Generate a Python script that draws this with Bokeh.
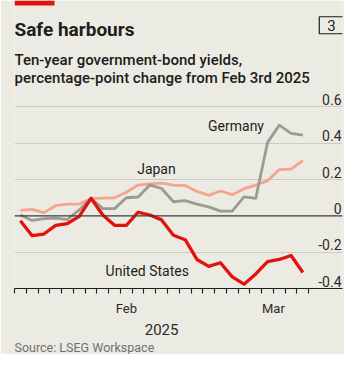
from bokeh.plotting import figure
from bokeh.models import (Range1d, LinearAxis, FixedTicker, Grid, Span, Label, Title,
                          BoxAnnotation, ColumnDataSource)
from bokeh.core.properties import value
from bokeh.embed import file_html
from bokeh.resources import INLINE

# ---------------- data ----------------
dates = ["Feb 4", "Feb 5", "Feb 6", "Feb 7", "Feb 10", "Feb 11", "Feb 12", "Feb 13",
         "Feb 14", "Feb 18", "Feb 19", "Feb 20", "Feb 21", "Feb 24", "Feb 25", "Feb 26",
         "Feb 27", "Feb 28", "Mar 3", "Mar 4", "Mar 5", "Mar 6", "Mar 7", "Mar 10", "Mar 11"]
months = ["Feb", "Feb", "Feb", "Feb", "Feb", "Feb", "Feb", "Feb", "Feb", "Feb", "Feb",
          "Feb", "Feb", "Feb", "Feb", "Feb", "Feb", "Feb", "Feb",
          "Mar", "Mar", "Mar", "Mar", "Mar", "Mar"]
united_states = [-0.027, -0.109, -0.100, -0.052, -0.042, -0.003, 0.097, 0.005, -0.052,
                 -0.052, 0.020, 0.005, -0.022, -0.107, -0.131, -0.240, -0.278, -0.258,
                 -0.336, -0.376, -0.320, -0.252, -0.240, -0.218, -0.312]
germany = [0.005, -0.025, -0.015, -0.012, -0.020, 0.033, 0.097, 0.040, 0.040, 0.100,
           0.104, 0.170, 0.151, 0.078, 0.084, 0.065, 0.050, 0.026, 0.026, 0.105, 0.097,
           0.405, 0.500, 0.455, 0.445]
japan = [0.030, 0.036, 0.018, 0.056, 0.065, 0.065, 0.095, 0.098, 0.100, 0.130, 0.170,
         0.176, 0.180, 0.170, 0.167, 0.135, 0.113, 0.137, 0.117, 0.150, 0.170, 0.193,
         0.255, 0.258, 0.305]
y_ticks = [-0.4, -0.2, 0, 0.2, 0.4, 0.6]
y_labels = ["-0.4", "-0.2", "0", "0.2", "0.4", "0.6"]
year_label = "2025"

# ---------------- layout / styles ----------------
BG = "#ecebe3"
RED = "#e3120b"
PINK = "#f5a58e"
GREY = "#9b9b94"
INK = "#1d1d1b"
FONT = "Roboto"

W, H = 344, 354
LEFT, RIGHT, BOTTOM = 14, 2, 63
DAY_PX = 11.77          # pixels per trading day
UNIT_PX = 183.4         # pixels per percentage point
Y_MIN = -0.4
X_END = (W - LEFT - RIGHT) / DAY_PX
Y_TOP = Y_MIN + (H - BOTTOM) / UNIT_PX


def ydat(py):
    """canvas pixel row (frame starts at top of canvas) -> data y"""
    return Y_TOP - py / UNIT_PX


def xdat(px):
    return (px - LEFT) / DAY_PX


n = len(dates)
xs = [i + 0.5 for i in range(n)]
bounds = [0]
month_names = [months[0]]
for i in range(1, n):
    if months[i] != months[i - 1]:
        bounds.append(i)
        month_names.append(months[i])
bounds.append(n)
month_centres = [(bounds[k] + bounds[k + 1]) / 2 for k in range(len(month_names))]

p = figure(width=W, height=H, x_range=Range1d(0, X_END), y_range=Range1d(Y_MIN, Y_TOP),
           x_axis_type=None, y_axis_type=None, output_backend="svg", title=None,
           toolbar_location=None, min_border_left=LEFT, min_border_right=RIGHT,
           min_border_top=0, min_border_bottom=BOTTOM,
           background_fill_color=BG, border_fill_color=BG, outline_line_color=None)

grid = Grid(dimension=1, ticker=FixedTicker(ticks=[t for t in y_ticks if t not in (0, -0.4)]),
            grid_line_color="#cdccc3", grid_line_width=1)
p.add_layout(grid)
p.add_layout(Span(location=0, dimension="width", line_color="#3b3b38", line_width=1.3))

src = ColumnDataSource(dict(x=xs, us=united_states, de=germany, jp=japan))
p.line("x", "jp", source=src, line_color=PINK, line_width=2.8, line_join="round")
p.line("x", "de", source=src, line_color=GREY, line_width=2.8, line_join="round")
p.line("x", "us", source=src, line_color=RED, line_width=3.3, line_join="round")

p.text(x=[X_END] * len(y_ticks), y=y_ticks, text=y_labels, text_align="right",
       text_baseline="bottom", x_offset=-1, y_offset=-2, text_font=value(FONT),
       text_font_size="14px", text_color="#2a2a28")

# x axis: one tick per trading day, month names centred on their spans
ax1 = LinearAxis(ticker=FixedTicker(ticks=month_centres, minor_ticks=list(range(n + 1))),
                 major_label_overrides={c: m for c, m in zip(month_centres, month_names)},
                 major_tick_line_color=None, major_tick_out=0, major_tick_in=0,
                 minor_tick_out=5, minor_tick_in=0, minor_tick_line_color=INK,
                 minor_tick_line_width=1.1,
                 axis_line_color=INK, axis_line_width=1.2, major_label_standoff=7,
                 major_label_text_font=FONT, major_label_text_font_size="13px",
                 major_label_text_color="#2a2a28")
# year, centred on the whole date span
ax2 = LinearAxis(ticker=FixedTicker(ticks=[n / 2], minor_ticks=[]),
                 major_label_overrides={n / 2: year_label},
                 axis_line_color=None, major_tick_line_color=None, minor_tick_line_color=None,
                 major_tick_out=0, major_tick_in=0, major_label_standoff=5,
                 major_label_text_font=FONT, major_label_text_font_size="15px",
                 major_label_text_color="#2a2a28")
p.add_layout(ax1, "below")
p.add_layout(ax2, "below")
p.add_layout(Title(text="Source: LSEG Workspace", align="left", text_font=FONT,
                   text_font_size="12.5px", text_font_style="normal", text_color="#707070",
                   standoff=0, offset=0), "below")

for txt, lx, ly in [("Germany", 18.82, 0.493), ("Japan", 12.06, 0.256),
                    ("United States", 11.28, -0.303)]:
    p.add_layout(Label(x=lx, y=ly, text=txt, text_align="center", text_baseline="middle",
                       text_font=FONT, text_font_size="14px", text_color=INK))

# header (inside the frame's top area)
p.add_layout(BoxAnnotation(left=xdat(14), right=xdat(54), top=ydat(0), bottom=ydat(5),
                           fill_color=RED, fill_alpha=1, line_color=None))
p.add_layout(Label(x=xdat(14), y=ydat(29), text="Safe harbours", text_font=FONT,
                   text_font_style="bold", text_font_size="19px", text_baseline="middle",
                   text_color=INK))
p.add_layout(Label(x=xdat(331), y=ydat(25), text="3", text_align="center",
                   text_baseline="middle", text_font=FONT, text_font_size="15px",
                   text_color=INK, border_line_color=INK, border_line_width=1.2,
                   padding=dict(left=8, right=8, top=3, bottom=3)))
p.add_layout(Label(x=xdat(14), y=ydat(60), text="Ten-year government-bond yields,",
                   text_font="Roboto Medium", text_font_size="15px", text_baseline="middle",
                   text_color=INK))
p.add_layout(Label(x=xdat(14), y=ydat(78), text="percentage-point change from Feb 3rd 2025",
                   text_font="Roboto Medium", text_font_size="15px", text_baseline="middle",
                   text_color=INK))

open("out.html", "w").write(file_html(p, INLINE))
